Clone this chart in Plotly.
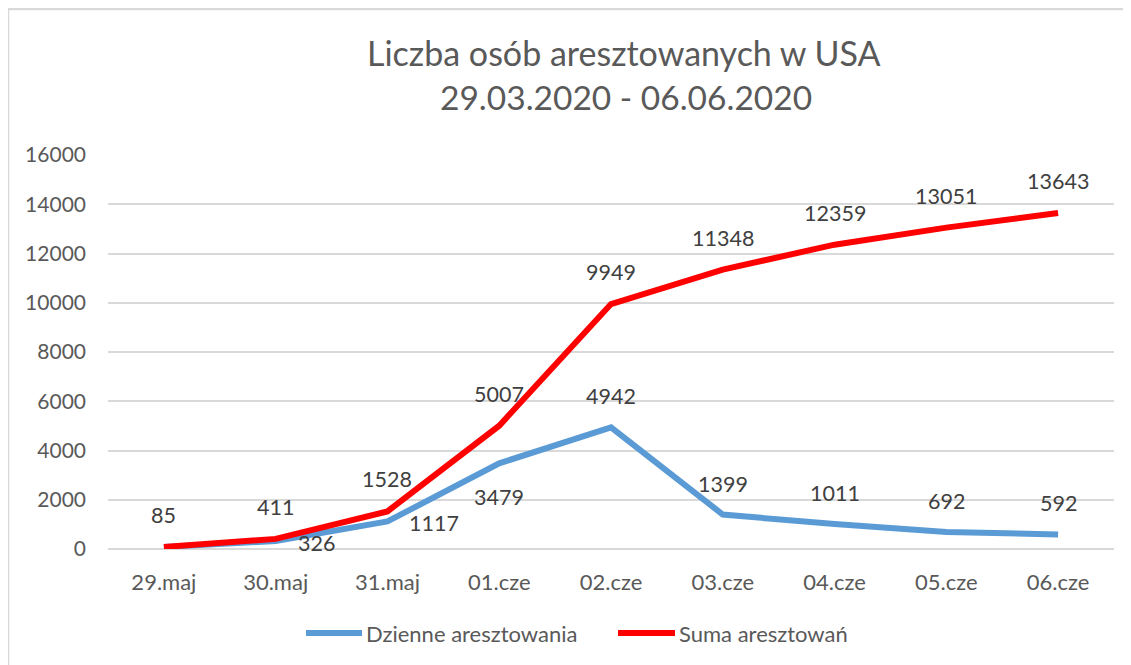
import plotly.graph_objects as go

categories = ["29.maj", "30.maj", "31.maj", "01.cze", "02.cze", "03.cze", "04.cze", "05.cze", "06.cze"]
daily = [85, 326, 1117, 3479, 4942, 1399, 1011, 692, 592]
total = [85, 411, 1528, 5007, 9949, 11348, 12359, 13051, 13643]
y_ticks = [0, 2000, 4000, 6000, 8000, 10000, 12000, 14000, 16000]

title_line1 = "Liczba osób aresztowanych w USA"
title_line2 = "29.03.2020 - 06.06.2020"
name_daily = "Dzienne aresztowania"
name_total = "Suma aresztowań"

# label placement styles (not data)
daily_label_pos = ["none", "right", "right", "below", "above", "above", "above", "above", "above"]

# page has an 8px body margin, so the figure is offset by 8px
OFF = 8
W, H = 1131 - OFF, 665 - OFF
ML, MR, MT, MB = 100, 17, 147, 116
PW, PH = W - ML - MR, H - MT - MB

def px_x(p):
    return (p - OFF - ML) / PW

def px_y(p):
    return (H - MB - (p - OFF)) / PH

FONT = "Lato"
BLUE = "#5b9bd5"
RED = "#ff0000"

fig = go.Figure()
fig.add_trace(go.Scatter(x=categories, y=daily, mode="lines", name=name_daily,
                         line=dict(color=BLUE, width=6), hoverinfo="x+y", showlegend=False))
fig.add_trace(go.Scatter(x=categories, y=total, mode="lines", name=name_total,
                         line=dict(color=RED, width=6), hoverinfo="x+y", showlegend=False))

annotations = []
label_font = dict(family=FONT, size=21.5, color="#404040")
for c, v in zip(categories, total):
    annotations.append(dict(x=c, y=v, xref="x", yref="y", text=str(v), showarrow=False,
                            xanchor="center", yanchor="middle", yshift=32, font=label_font))
for c, v, pos in zip(categories, daily, daily_label_pos):
    if pos == "none":
        continue
    if pos == "right":
        annotations.append(dict(x=c, y=v, xref="x", yref="y", text=str(v), showarrow=False,
                                xanchor="left", yanchor="middle", xshift=20, yshift=-2, font=label_font))
    elif pos == "below":
        annotations.append(dict(x=c, y=v, xref="x", yref="y", text=str(v), showarrow=False,
                                xanchor="center", yanchor="middle", yshift=-34, font=label_font))
    else:
        annotations.append(dict(x=c, y=v, xref="x", yref="y", text=str(v), showarrow=False,
                                xanchor="center", yanchor="middle", yshift=31, font=label_font))

annotations.append(dict(x=px_x(624), y=px_y(52.5), xref="paper", yref="paper", text=title_line1,
                        showarrow=False, xanchor="center", yanchor="middle",
                        font=dict(family=FONT, size=34, color="#595959")))
annotations.append(dict(x=px_x(626), y=px_y(97.5), xref="paper", yref="paper", text=title_line2,
                        showarrow=False, xanchor="center", yanchor="middle",
                        font=dict(family=FONT, size=33.5, color="#595959")))

# legend (drawn manually to match the long legend line keys)
legend_font = dict(family=FONT, size=22, color="#595959")
legend_items = [(name_daily, BLUE, 306, 362), (name_total, RED, 618, 675)]
shapes = []
for name, color, x0, x1 in legend_items:
    shapes.append(dict(type="line", xref="paper", yref="paper", x0=px_x(x0), x1=px_x(x1),
                       y0=px_y(633), y1=px_y(633), line=dict(color=color, width=6)))
    annotations.append(dict(x=px_x(x1 + 2), y=px_y(633), xref="paper", yref="paper", text=name,
                            showarrow=False, xanchor="left", yanchor="middle", font=legend_font))

# chart border (top and left edges visible)
shapes += [
    dict(type="line", xref="paper", yref="paper", x0=px_x(8), x1=px_x(1131), y0=px_y(9), y1=px_y(9),
         line=dict(color="#d9d9d9", width=2.5)),
    dict(type="line", xref="paper", yref="paper", x0=px_x(8), x1=px_x(8), y0=px_y(9), y1=px_y(665),
         line=dict(color="#d9d9d9", width=2.5)),
]

fig.update_layout(
    width=W, height=H,
    margin=dict(l=ML, r=MR, t=MT, b=MB),
    paper_bgcolor="white", plot_bgcolor="white",
    font=dict(family=FONT, color="#595959"),
    showlegend=False,
    annotations=annotations,
    shapes=shapes,
)
fig.update_xaxes(type="category", range=[-0.5, len(categories) - 0.5], showgrid=False,
                 showline=False, zeroline=False, ticks="", ticklabelstandoff=18,
                 tickfont=dict(family=FONT, size=22, color="#595959"))
fig.update_yaxes(range=[0, 16000], tickvals=y_ticks, ticktext=[str(t) for t in y_ticks],
                 showgrid=True, gridcolor="#d9d9d9", gridwidth=2,
                 zeroline=True, zerolinecolor="#d9d9d9", zerolinewidth=2,
                 showline=False, ticks="", ticklabelstandoff=21,
                 tickfont=dict(family=FONT, size=21, color="#595959"))

fig.write_html("out.html")
